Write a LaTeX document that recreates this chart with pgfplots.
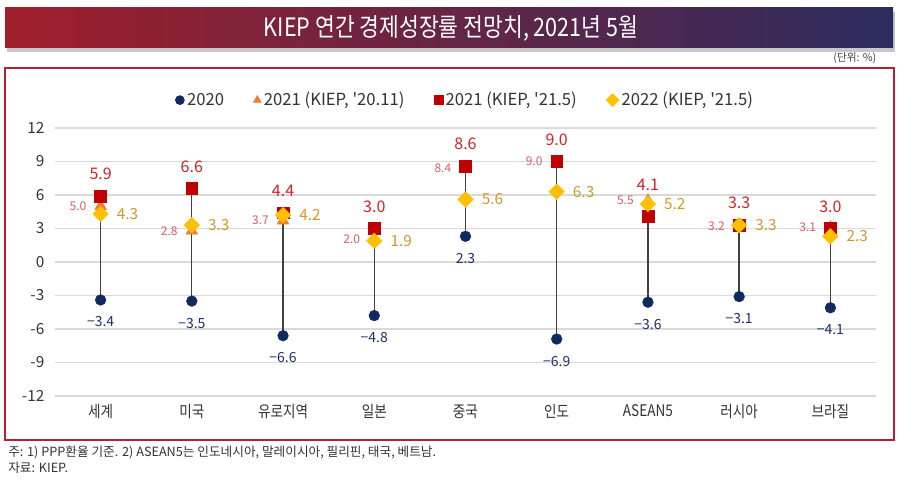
\documentclass[border=0pt]{standalone}
\usepackage{pgfplots}
\pgfplotsset{compat=1.18}
\usepackage{pgfplotstable}
\usepackage{fontspec}
\setmainfont{Noto Sans CJK KR}[Ligatures=TeXOff]
\newfontfamily\condfont[FakeStretch=0.85]{Noto Sans CJK KR}
\definecolor{ttlL}{HTML}{A01E2B}
\definecolor{ttlR}{HTML}{2B2C5E}
\definecolor{frameC}{HTML}{B02230}
\definecolor{cNavy}{HTML}{0F2A5E}
\definecolor{cNavyLab}{HTML}{1E2F6B}
\definecolor{cOrange}{HTML}{ED7D31}
\definecolor{cTriLab}{HTML}{E05A64}
\definecolor{cRed}{HTML}{C00000}
\definecolor{cRedLab}{HTML}{D0202A}
\definecolor{cGold}{HTML}{FFC000}
\definecolor{cGoldLab}{HTML}{CF9A2A}
\definecolor{gridC}{HTML}{D9D9D9}
\definecolor{stemC}{HTML}{404040}
\definecolor{tickC}{HTML}{333333}

\pgfplotstableread{
x y lab
0 -3.4 −3.4
1 -3.5 −3.5
2 -6.6 −6.6
3 -4.8 −4.8
4 2.3 2.3
5 -6.9 −6.9
6 -3.6 −3.6
7 -3.1 −3.1
8 -4.1 −4.1
}\tblA
\pgfplotstableread{
x y lab
0 5.0 5.0
1 2.8 2.8
2 3.7 3.7
3 2.0 2.0
4 8.4 8.4
5 9.0 9.0
6 5.5 5.5
7 3.2 3.2
8 3.1 3.1
}\tblB
\pgfplotstableread{
x y lab dy
0 5.9 5.9 16.5
1 6.6 6.6 16.5
2 4.4 4.4 16.5
3 3.0 3.0 16.5
4 8.6 8.6 16.5
5 9.0 9.0 16.5
6 4.1 4.1 23.5
7 3.3 3.3 16.5
8 3.0 3.0 16.5
}\tblC
\pgfplotstableread{
x y lab
0 4.3 4.3
1 3.3 3.3
2 4.2 4.2
3 1.9 1.9
4 5.6 5.6
5 6.3 6.3
6 5.2 5.2
7 3.3 3.3
8 2.3 2.3
}\tblD

\begin{document}
\begin{tikzpicture}[x=0.75pt,y=0.75pt]
\path (0,0) rectangle (900,485);
% title banner
\fill[black!22] (7,433) rectangle (895,473);
\shade[left color=ttlL, right color=ttlR] (5,437) rectangle (893,477);
\node[text=white, font=\condfont\fontsize{19}{21}\selectfont] at (451,457) {KIEP 연간 경제성장률 전망치, 2021년 5월};
\node[anchor=east, font=\fontsize{8}{9}\selectfont, text=black!75] at (881,427) {(단위: \%)};
% frame
\draw[frameC, line width=1.5pt] (5,45) rectangle (894,417);
% footnotes
\node[anchor=west, font=\fontsize{9.5}{11}\selectfont, text=tickC, inner sep=0pt] at (8,33) {주: 1) PPP환율 기준. 2) ASEAN5는 인도네시아, 말레이시아, 필리핀, 태국, 베트남.};
\node[anchor=west, font=\fontsize{9.5}{11}\selectfont, text=tickC, inner sep=0pt] at (8,17) {자료: KIEP.};

\begin{axis}[
  at={(41.25pt,66.75pt)}, anchor=south west,
  scale only axis, width=615.75pt, height=201pt,
  xmin=-0.5, xmax=8.5, ymin=-12, ymax=12,
  xtick={0,...,8},
  xticklabels={세계,미국,유로지역,일본,중국,인도,ASEAN5,러시아,브라질},
  ytick={-12,-9,...,12},
  axis line style={draw=none},
  major tick length=0pt,
  ymajorgrids, grid style={gridC, line width=1.1pt},
  yticklabel style={font=\fontsize{11.5}{13}\selectfont, text=tickC, xshift=-4.5pt},
  xticklabel style={font=\condfont\fontsize{12}{13}\selectfont, text=tickC, yshift=-3pt},
  /pgf/number format/assume math mode=true,
  clip=false,
  legend columns=4,
  legend style={draw=none, fill=none, at={(0.5,1.104)}, anchor=center,
    font=\fontsize{12.5}{14}\selectfont, text=tickC,
    /tikz/every even column/.append style={column sep=20pt}},
  legend image post style={mark size=3.4pt},
]
\addplot[stemC, line width=1pt, unbounded coords=jump, forget plot] coordinates {
(0,-3.4)(0,5.9)(0,nan)
(1,-3.5)(1,6.6)(1,nan)
(2,-6.6)(2,4.4)(2,nan)
(3,-4.8)(3,3.0)(3,nan)
(4,2.3)(4,8.6)(4,nan)
(5,-6.9)(5,9.0)(5,nan)
(6,-3.6)(6,5.5)(6,nan)
(7,-3.1)(7,3.3)(7,nan)
(8,-4.1)(8,3.1)
};
\addplot[only marks, mark=*, mark size=4pt, color=cNavy,
  nodes near coords, point meta=explicit symbolic,
  every node near coord/.append style={anchor=center, yshift=-16.5pt, inner sep=0pt,
    font=\fontsize{10.5}{12}\selectfont, text=cNavyLab}]
  table[x=x, y=y, meta=lab] {\tblA};
\addlegendentry{2020}
\addplot[only marks, mark=triangle*, mark size=5pt, color=cOrange,
  nodes near coords, point meta=explicit symbolic,
  every node near coord/.append style={anchor=east, xshift=-10.5pt, inner sep=0pt,
    font=\fontsize{9}{10}\selectfont, text=cTriLab}]
  table[x=x, y=y, meta=lab] {\tblB};
\addlegendentry{2021 (KIEP, '20.11)}
\addplot[only marks, mark=square*, mark size=4.4pt, color=cRed,
  visualization depends on={\thisrow{dy} \as \labdy},
  nodes near coords, point meta=explicit symbolic,
  every node near coord/.append style={anchor=center, yshift=\labdy pt, inner sep=0pt,
    font=\fontsize{12}{14}\selectfont, text=cRedLab}]
  table[x=x, y=y, meta=lab] {\tblC};
\addlegendentry{2021 (KIEP, '21.5)}
\addplot[only marks, mark=square*, mark options={rotate=45}, mark size=4.1pt, color=cGold,
  nodes near coords, point meta=explicit symbolic,
  every node near coord/.append style={anchor=west, xshift=12pt, inner sep=0pt,
    font=\fontsize{11.5}{13}\selectfont, text=cGoldLab}]
  table[x=x, y=y, meta=lab] {\tblD};
\addlegendentry{2022 (KIEP, '21.5)}
\end{axis}
\end{tikzpicture}
\end{document}
